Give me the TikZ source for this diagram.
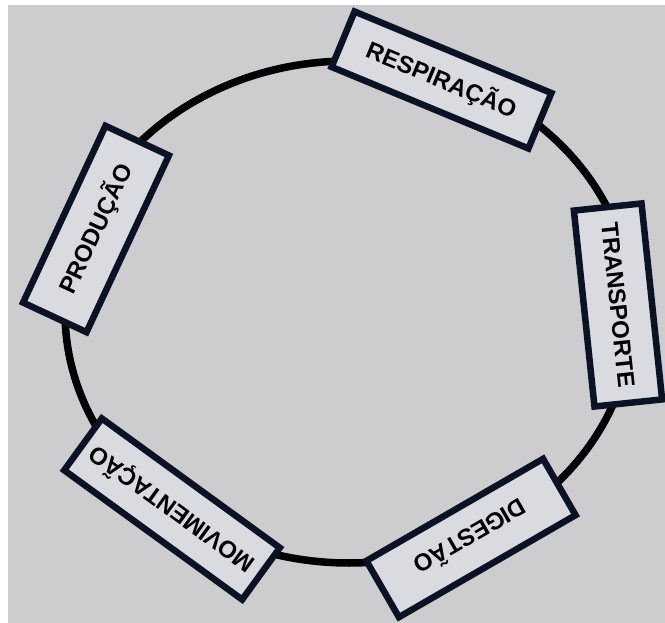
\documentclass[tikz,border=0pt]{standalone}
\usepackage{fontspec}
\setmainfont{Liberation Sans}
\definecolor{bg}{RGB}{205,205,207}
\definecolor{boxfill}{RGB}{217,219,225}
\definecolor{boxline}{RGB}{10,18,36}
\begin{document}
\begin{tikzpicture}[x=1pt,y=1pt,
  lab/.style={draw=boxline, line width=6.5pt, fill=boxfill,
    font=\bfseries\fontsize{24}{26}\selectfont, inner sep=0pt, align=center}]
\useasboundingbox (0,0) rectangle (665,-623);
\fill[white] (0,0) rectangle (665,-623);
\fill[bg] (8,-5) rectangle (665,-623);
\coordinate (c) at (349,-312);
\draw[line width=7.5pt] (c) ellipse [x radius=284, y radius=251];
\node[lab, minimum width=213pt, minimum height=60pt, rotate=-22.5] (resp) at (441.5,-80) {RESPIRAÇÃO};
\node[lab, minimum width=197pt, minimum height=68pt, rotate=-84] (trans) at (618,-305) {TRANSPORTE};
\node[lab, minimum width=204pt, minimum height=65pt, rotate=-150] (dig) at (471,-538) {DIGESTÃO};
\node[lab, minimum width=220pt, minimum height=64pt, rotate=144] (mov) at (172,-509) {MOVIMENTAÇÃO};
\node[lab, minimum width=195pt, minimum height=70pt, rotate=65] (prod) at (96,-229) {PRODUÇÃO};
\end{tikzpicture}
\end{document}
